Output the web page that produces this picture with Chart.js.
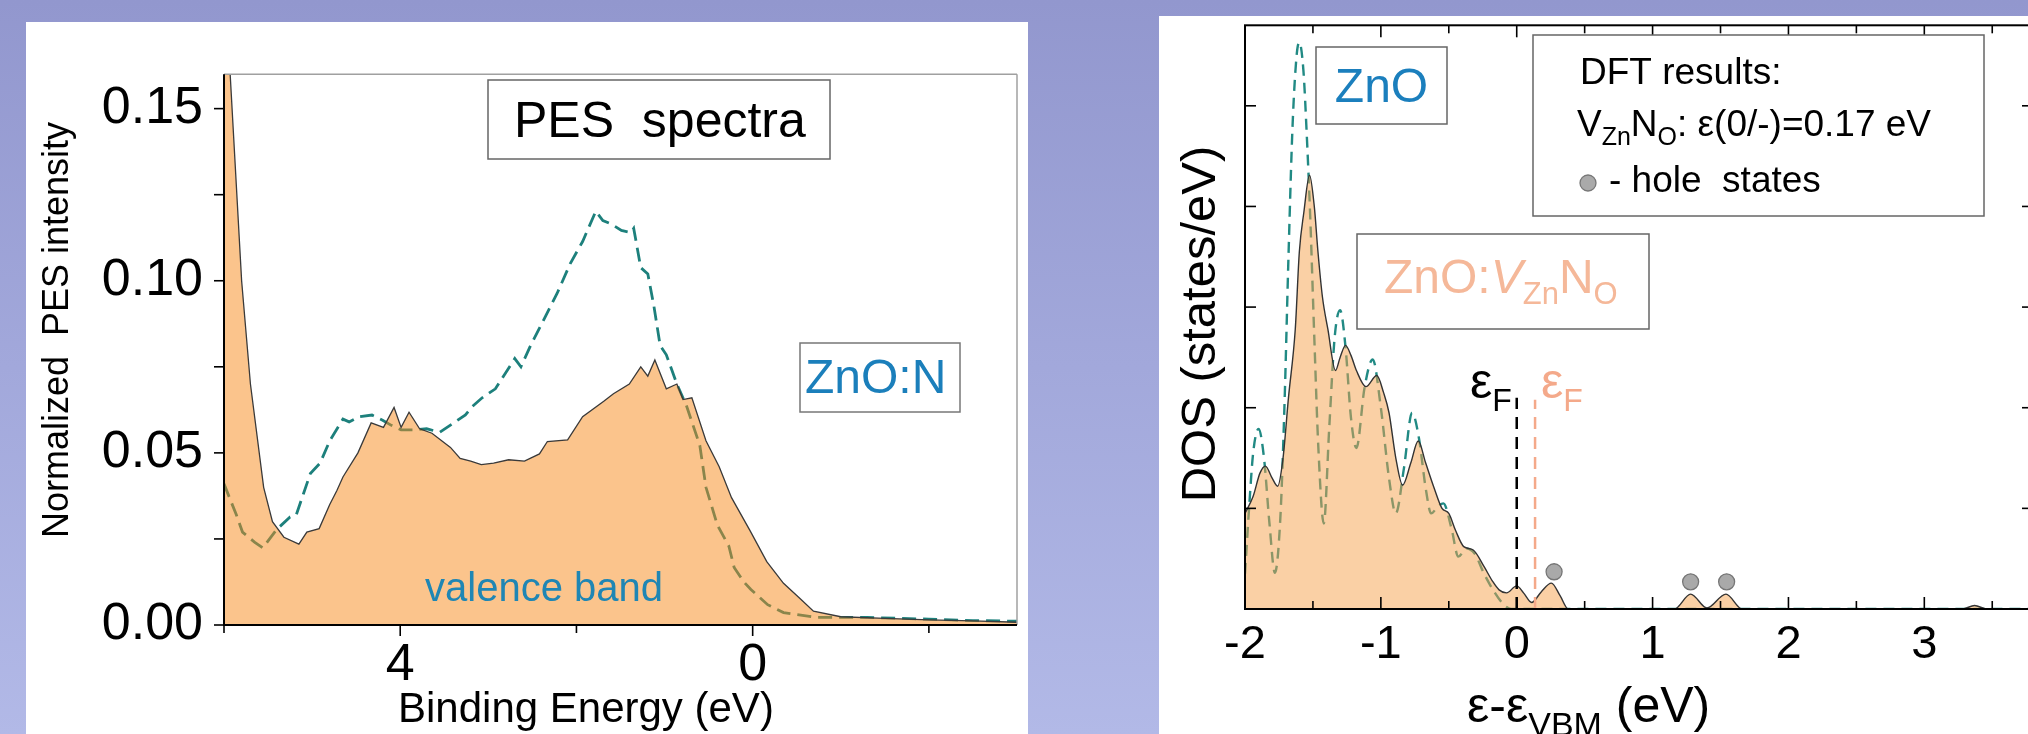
<!DOCTYPE html>
<html><head><meta charset="utf-8">
<script src="https://cdn.jsdelivr.net/npm/chart.js@4.4.1/dist/chart.umd.min.js"></script>
<style>
html,body{margin:0;padding:0;width:2028px;height:734px;overflow:hidden;
background:linear-gradient(180deg,#9297ce 0%,#a2a8db 50%,#b2b9e7 100%);}
.card{position:absolute;background:#fff;overflow:hidden;}
#c1{left:26px;top:22px;width:1002px;height:712px;}
#c2{left:1159px;top:16px;width:900px;height:718px;}
canvas{display:block;}
</style></head><body>
<div class="card" id="c1"><canvas id="pes" width="1002" height="712"></canvas></div>
<div class="card" id="c2"><canvas id="dos" width="900" height="718"></canvas></div>
<script>
// ---------- Left panel: PES spectra ----------
const pesEnergyZnON = [6.00,5.93,5.80,5.70,5.55,5.45,5.32,5.15,5.06,4.92,4.80,4.72,4.65,4.48,4.33,4.19,4.07,3.99,3.90,3.78,3.64,3.43,3.32,3.20,3.08,2.94,2.77,2.59,2.42,2.33,2.10,1.93,1.69,1.58,1.40,1.27,1.19,1.11,0.98,0.86,0.79,0.69,0.53,0.38,0.24,0.03,-0.16,-0.35,-0.54,-0.69,-1.0,-1.5,-2.0,-2.5,-3.0];
const pesZnON = [0.19,0.16,0.10,0.07,0.040,0.030,0.0255,0.0235,0.027,0.028,0.035,0.039,0.043,0.050,0.0587,0.0574,0.0632,0.0574,0.0618,0.057,0.0557,0.0516,0.0484,0.0476,0.0466,0.047,0.048,0.0476,0.0497,0.0533,0.0538,0.0605,0.065,0.0672,0.070,0.075,0.0723,0.077,0.0686,0.070,0.0655,0.066,0.0535,0.046,0.037,0.0274,0.0184,0.0121,0.0076,0.004,0.0024,0.0019,0.0015,0.0012,0.0008];
const pesEnergyRef = [6.00,5.86,5.79,5.65,5.56,5.40,5.25,5.18,5.10,5.02,4.91,4.80,4.65,4.58,4.47,4.32,4.20,4.10,3.99,3.84,3.70,3.55,3.40,3.26,3.18,3.07,2.92,2.81,2.70,2.63,2.52,2.37,2.22,2.07,1.93,1.78,1.70,1.60,1.49,1.38,1.35,1.27,1.19,1.12,1.05,0.98,0.86,0.75,0.60,0.53,0.40,0.27,0.21,0.10,0.02,-0.17,-0.35,-0.73,-1.3,-2.0,-2.5,-3.0];
const pesRef = [0.041,0.032,0.027,0.024,0.0224,0.0278,0.0314,0.032,0.038,0.044,0.047,0.0535,0.0598,0.059,0.0605,0.061,0.0595,0.058,0.0567,0.0567,0.057,0.056,0.0586,0.061,0.0635,0.066,0.0686,0.073,0.0774,0.075,0.0812,0.0887,0.0963,0.105,0.1114,0.1202,0.1175,0.1164,0.1146,0.114,0.1152,0.1038,0.102,0.0925,0.0812,0.0785,0.070,0.0636,0.0522,0.040,0.029,0.0229,0.0167,0.0125,0.0103,0.0059,0.0036,0.0022,0.0022,0.0017,0.0013,0.0011];
const pesYTicks = [0, 0.025, 0.05, 0.075, 0.10, 0.125, 0.15];
const pesXTicks = [6, 4, 2, 0, -2];

// ---------- Right panel: DFT DOS ----------
const dosEnergyZnO = [-2.00,-1.97,-1.94,-1.90,-1.86,-1.82,-1.78,-1.74,-1.71,-1.68,-1.65,-1.62,-1.60,-1.57,-1.545,-1.52,-1.49,-1.46,-1.42,-1.38,-1.34,-1.30,-1.26,-1.22,-1.18,-1.12,-1.06,-1.00,-0.94,-0.89,-0.83,-0.77,-0.72,-0.67,-0.63,-0.58,-0.54,-0.48,-0.43,-0.37,-0.31,-0.24,-0.17,-0.10,-0.04,0.5,1.5,2.5,3.8];
const dosZnO = [0.35,1.0,1.55,1.79,1.5,0.85,0.36,0.9,2.0,3.5,4.8,5.5,5.63,5.35,4.7,3.9,2.7,1.6,0.85,1.8,2.7,2.97,2.6,1.9,1.6,2.2,2.48,2.0,1.3,0.95,1.4,1.95,1.7,1.2,0.95,1.02,1.05,0.8,0.52,0.6,0.55,0.35,0.18,0.05,0.0,0,0,0,0];
const dosEnergyDefect = [-2.00,-1.94,-1.89,-1.85,-1.80,-1.76,-1.72,-1.68,-1.63,-1.60,-1.567,-1.525,-1.49,-1.463,-1.43,-1.39,-1.334,-1.30,-1.26,-1.22,-1.18,-1.11,-1.03,-0.98,-0.94,-0.89,-0.84,-0.78,-0.725,-0.67,-0.61,-0.55,-0.50,-0.45,-0.39,-0.32,-0.24,-0.18,-0.13,-0.075,0.0,0.05,0.11,0.18,0.255,0.32,0.38,1.16,1.28,1.40,1.54,1.66,3.28,3.37,3.46,3.8];
const dosDefect = [0.95,1.12,1.35,1.42,1.3,1.22,1.5,2.1,2.78,3.55,3.94,4.31,4.0,3.55,3.1,2.78,2.37,2.5,2.62,2.52,2.37,2.21,2.32,2.15,1.95,1.5,1.23,1.45,1.67,1.45,1.21,1.0,0.95,0.78,0.62,0.586,0.42,0.28,0.19,0.16,0.23,0.16,0.065,0.17,0.257,0.13,0.0,0.0,0.148,0.01,0.148,0.0,0.0,0.035,0.0,0.0];
const holeEnergy = [0.275, 1.28, 1.545];
const holeLevel = [0.37, 0.27, 0.27];
const fermiZnO = 0.0, fermiDefect = 0.135, fermiTop = 2.08;
const dosXTicks = [-2,-1.5,-1,-0.5,0,0.5,1,1.5,2,2.5,3,3.5];
const dosYTicks = [1,2,3,4,5];

const FONT = '"Liberation Sans", Arial, Helvetica, sans-serif';
function font(s, it){ return (it ? 'italic ' : '') + s + 'px ' + FONT; }
function rich(ctx, x, y, segs){
  for (const g of segs){
    ctx.font = font(g.s, g.it); ctx.fillStyle = g.c || '#000';
    ctx.textAlign = 'left'; ctx.textBaseline = 'alphabetic';
    ctx.fillText(g.t, x, y + (g.dy || 0));
    x += ctx.measureText(g.t).width;
  }
}
function box(ctx, x0, y0, x1, y1, col){
  ctx.save(); ctx.fillStyle = '#fff'; ctx.fillRect(x0, y0, x1-x0, y1-y0);
  ctx.strokeStyle = col || '#666'; ctx.lineWidth = 1.5; ctx.strokeRect(x0, y0, x1-x0, y1-y0); ctx.restore();
}
function line(ctx, x0, y0, x1, y1){ ctx.beginPath(); ctx.moveTo(x0, y0); ctx.lineTo(x1, y1); ctx.stroke(); }
const pts = (xs, ys) => xs.map((x, i) => ({x: x, y: ys[i]}));

// ---------- PES chart ----------
const pesPlugin = {
  id: 'pesDeco',
  afterDraw(chart){
    const {ctx, chartArea: a, scales: {x, y}} = chart;
    ctx.save();
    ctx.strokeStyle = '#a0a0a0'; ctx.lineWidth = 1.5;
    line(ctx, a.left, a.top, a.right, a.top);
    line(ctx, a.right, a.top, a.right, a.bottom);
    ctx.strokeStyle = '#000'; ctx.lineWidth = 2;
    line(ctx, a.left, a.top, a.left, a.bottom + 1);
    line(ctx, a.left - 1, a.bottom, a.right, a.bottom);
    ctx.lineWidth = 1.6;
    for (const v of pesYTicks){ const p = y.getPixelForValue(v); line(ctx, a.left - 10, p, a.left, p); }
    for (const e of pesXTicks){ const p = x.getPixelForValue(e); line(ctx, p, a.bottom, p, a.bottom + (e % 4 === 0 ? 11 : 8)); }
    // annotations
    box(ctx, 462, 58, 804, 137, '#666');
    rich(ctx, 488, 115, [{t: 'PES  spectra', s: 50}]);
    box(ctx, 774, 321, 934, 390, '#777');
    rich(ctx, 779, 371, [{t: 'ZnO:N', s: 48, c: '#1b7fbb'}]);
    rich(ctx, 399, 579, [{t: 'valence band', s: 40, c: '#1f86b4'}]);
    rich(ctx, 372, 700, [{t: 'Binding Energy (eV)', s: 42}]);
    ctx.translate(32, 308); ctx.rotate(-Math.PI/2);
    ctx.font = font(36); ctx.fillStyle = '#000'; ctx.textAlign = 'center'; ctx.textBaseline = 'middle';
    ctx.fillText('Normalized  PES intensity', 0, 0);
    ctx.restore();
  }
};
new Chart(document.getElementById('pes'), {
  type: 'line',
  data: { datasets: [
    { label: 'ZnO:N', data: pts(pesEnergyZnON, pesZnON), borderColor: '#3a3a3a', borderWidth: 1.3,
      backgroundColor: 'rgba(247,137,25,0.5)', fill: 'origin', pointRadius: 0, tension: 0 },
    { label: 'ZnO', data: pts(pesEnergyRef, pesRef), borderColor: '#1d807c', borderWidth: 2.8,
      borderDash: [14, 7], fill: false, pointRadius: 0, tension: 0 }
  ]},
  options: {
    responsive: false, animation: false, events: [],
    layout: { padding: { left: 0, top: 8, right: 11, bottom: 0 } },
    plugins: { legend: { display: false }, tooltip: { enabled: false } },
    scales: {
      x: { type: 'linear', reverse: true, min: -3, max: 6,
        grid: { display: false, drawTicks: false }, border: { display: false },
        ticks: { stepSize: 4, includeBounds: false, padding: 9, color: '#000', font: { family: FONT, size: 52 },
          callback: v => (v === 4 || v === 0) ? String(v) : '' },
        afterFit: s => { s.height = 109; } },
      y: { type: 'linear', min: 0, max: 0.16,
        grid: { display: false, drawTicks: false }, border: { display: false },
        ticks: { stepSize: 0.05, includeBounds: false, padding: 21, color: '#000', font: { family: FONT, size: 52 },
          callback: v => v.toFixed(2) },
        afterFit: s => { s.width = 198; } }
    }
  },
  plugins: [pesPlugin]
});

// ---------- DOS chart ----------
const dosPlugin = {
  id: 'dosDeco',
  afterDraw(chart){
    const {ctx, chartArea: a, scales: {x, y}} = chart;
    ctx.save();
    ctx.strokeStyle = '#000'; ctx.lineWidth = 2;
    ctx.strokeRect(a.left, a.top, a.right - a.left, a.bottom - a.top);
    ctx.lineWidth = 1.6;
    for (const e of dosXTicks){
      const p = x.getPixelForValue(e); const L = Number.isInteger(e) ? 12 : 8;
      line(ctx, p, a.bottom, p, a.bottom - L); line(ctx, p, a.top, p, a.top + L);
    }
    for (const v of dosYTicks){
      const p = y.getPixelForValue(v);
      line(ctx, a.left, p, a.left + 11, p); line(ctx, a.right, p, a.right - 11, p);
    }
    // annotation boxes
    box(ctx, 157, 31, 288, 108, '#666');
    ctx.font = font(48); ctx.fillStyle = '#1b7fbd'; ctx.textAlign = 'center'; ctx.textBaseline = 'alphabetic';
    ctx.fillText('ZnO', 222.5, 86);
    box(ctx, 374, 19, 825, 200, '#666');
    rich(ctx, 421, 68, [{t: 'DFT results:', s: 37}]);
    rich(ctx, 418, 120, [{t: 'V', s: 37}, {t: 'Zn', s: 25, dy: 9}, {t: 'N', s: 37}, {t: 'O', s: 25, dy: 9}, {t: ': ε(0/-)=0.17 eV', s: 37}]);
    ctx.beginPath(); ctx.arc(429, 167, 8, 0, Math.PI*2); ctx.fillStyle = '#aaaaaa'; ctx.fill();
    ctx.strokeStyle = '#777'; ctx.lineWidth = 1.3; ctx.stroke();
    rich(ctx, 450, 176, [{t: '- hole  states', s: 37}]);
    box(ctx, 198, 218, 490, 313, '#666');
    const sal = '#f5b899';
    rich(ctx, 225, 277, [{t: 'ZnO:', s: 48, c: sal}, {t: 'V', s: 48, it: true, c: sal}, {t: 'Zn', s: 31, dy: 11, c: sal}, {t: 'N', s: 48, c: sal}, {t: 'O', s: 31, dy: 11, c: sal}]);
    rich(ctx, 311, 382, [{t: 'ε', s: 50}, {t: 'F', s: 32, dy: 13}]);
    rich(ctx, 382, 382, [{t: 'ε', s: 50, c: '#f4a98a'}, {t: 'F', s: 32, dy: 13, c: '#f4a98a'}]);
    // axis titles
    rich(ctx, 308, 706, [{t: 'ε-ε', s: 50}, {t: 'VBM', s: 34, dy: 14}, {t: ' (eV)', s: 50}]);
    ctx.translate(42, 308); ctx.rotate(-Math.PI/2);
    ctx.font = font(49); ctx.fillStyle = '#000'; ctx.textAlign = 'center'; ctx.textBaseline = 'middle';
    ctx.fillText('DOS (states/eV)', 0, 0);
    ctx.restore();
  }
};
new Chart(document.getElementById('dos'), {
  type: 'line',
  data: { datasets: [
    { label: 'holes', data: pts(holeEnergy, holeLevel), showLine: false, pointRadius: 8,
      pointBackgroundColor: '#a9a9a9', pointBorderColor: '#767676', pointBorderWidth: 1.3 },
    { label: 'EF defect', data: [{x: fermiDefect, y: 0}, {x: fermiDefect, y: fermiTop}], borderColor: '#f4a98a',
      borderWidth: 2.5, borderDash: [12, 8], pointRadius: 0, fill: false },
    { label: 'EF ZnO', data: [{x: fermiZnO, y: 0}, {x: fermiZnO, y: fermiTop + 0.02}], borderColor: '#000',
      borderWidth: 2.5, borderDash: [12, 8], pointRadius: 0, fill: false },
    { label: 'ZnO:VZnNO', data: pts(dosEnergyDefect, dosDefect), borderColor: '#333', borderWidth: 1.4,
      backgroundColor: 'rgba(245,161,75,0.5)', fill: 'origin', pointRadius: 0, cubicInterpolationMode: 'monotone' },
    { label: 'ZnO', data: pts(dosEnergyZnO, dosZnO), borderColor: '#218a84', borderWidth: 2.4,
      borderDash: [11, 7], fill: false, pointRadius: 0, cubicInterpolationMode: 'monotone' }
  ]},
  options: {
    responsive: false, animation: false, events: [],
    layout: { padding: { left: 0, top: 7, right: 26, bottom: 0 } },
    plugins: { legend: { display: false }, tooltip: { enabled: false } },
    scales: {
      x: { type: 'linear', min: -2, max: 3.8,
        grid: { display: false, drawTicks: false }, border: { display: false },
        ticks: { stepSize: 1, includeBounds: false, padding: 8, color: '#000', font: { family: FONT, size: 47 } },
        afterFit: s => { s.height = 125; } },
      y: { type: 'linear', min: 0, max: 5.8,
        grid: { display: false, drawTicks: false }, border: { display: false },
        ticks: { display: false },
        afterFit: s => { s.width = 86; } }
    }
  },
  plugins: [dosPlugin]
});
</script>
</body></html>
